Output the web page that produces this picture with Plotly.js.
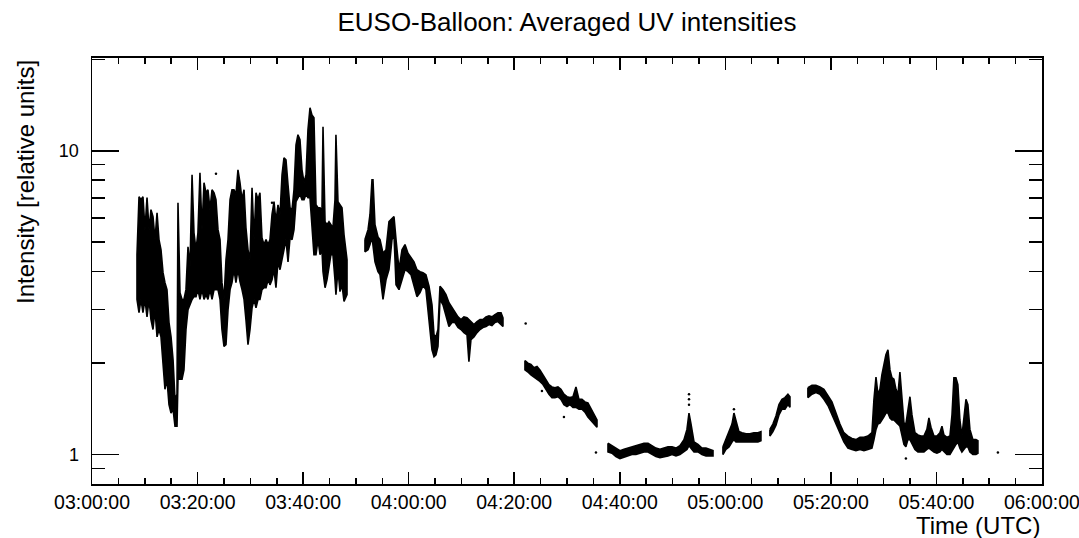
<!DOCTYPE html>
<html>
<head>
<meta charset="utf-8">
<script src="https://cdn.plot.ly/plotly-3.0.1.min.js"></script>
<style>
html,body{margin:0;padding:0;background:#ffffff;}
#chart{width:1079px;height:538px;}
</style>
</head>
<body>
<div id="chart"></div>
<script>
// Averaged UV intensity.
// tMin: minutes after 03:00:00 UTC (null = gap between recording intervals)
// lowVal / highVal: lower and upper envelope of the dense point cloud (relative units)
const tMin = [
  8.53, 8.91, 9.28, 9.66, 10.04, 10.42, 10.80, 11.18, 11.56, 11.94,
  12.32, 12.69, 13.07, 13.45, 13.83, 14.21, 14.59, 14.97, 15.35, 15.73,
  16.11, 16.29, 16.67, 17.05, 17.43, 17.81, 18.19, 18.57, 18.95, 19.33,
  19.71, 20.08, 20.46, 20.84, 21.22, 21.60, 21.98, 22.36, 22.74, 23.12,
  23.49, 23.87, 24.25, 24.63, 25.01, 25.39, 25.77, 26.15, 26.53, 26.91,
  27.28, 27.66, 28.04, 28.42, 28.80, 29.18, 29.56, 29.94, 30.32, 30.70,
  31.07, 31.45, 31.83, 32.21, 32.59, 32.97, 33.35, 33.73, 34.11, 34.49,
  34.86, 35.24, 35.62, 36.00, 36.38, 36.76, 37.14, 37.52, 37.90, 38.27,
  38.65, 39.03, 39.41, 39.79, 40.17, 40.55, 40.93, 41.31, 41.68, 42.06,
  42.44, 42.82, 43.20, 43.58, 43.77, 44.15, 44.53, 44.91, 45.28, 45.66,
  46.04, 46.23, 46.61, 46.99, 47.37, 47.75, 48.32,
  null,
  51.73, 52.30, 52.67, 53.05, 53.24, 53.62, 54.19, 54.57, 55.14, 55.71,
  56.27, 56.84, 57.22, 57.60, 58.17, 58.74, 59.31, 59.87, 60.44, 61.01,
  61.58, 62.15, 62.72, 63.28, 63.85, 64.42, 64.80, 65.18, 65.56, 65.94,
  66.51, 67.07, 67.64, 68.21, 68.78, 69.35, 69.92, 70.48, 71.05, 71.43,
  71.81, 72.38, 72.95, 73.52, 74.08, 74.65, 75.22, 75.79, 76.36, 76.93,
  77.50, 77.87,
  null,
  82.04, 82.61, 83.18, 83.75, 84.32, 84.88, 85.45, 86.02, 86.59, 87.16,
  87.73, 88.29, 88.86, 89.43, 90.00, 90.57, 91.14, 91.71, 92.27, 92.84,
  93.41, 93.98, 94.55, 95.12, 95.69,
  null,
  97.77, 98.53, 99.28, 100.04, 100.80, 101.56, 102.31, 103.07, 103.83, 104.59,
  105.35, 106.11, 106.86, 107.62, 108.38, 109.14, 109.90, 110.66, 111.41, 112.17,
  112.74, 113.12, 113.50, 114.07, 114.83, 115.58, 116.34, 117.10, 117.67,
  null,
  119.56, 120.13, 120.70, 121.27, 121.64, 122.02, 122.59, 123.16, 123.92, 124.67,
  125.43, 126.19, 126.76,
  null,
  128.46, 129.03, 129.60, 130.17, 130.74, 131.31, 131.88, 132.25,
  null,
  135.66, 136.42, 137.18, 137.94, 138.69, 139.45, 140.21, 140.97, 141.73, 142.48,
  143.24, 144.00, 144.76, 145.52, 146.27, 147.03, 147.79, 148.17, 148.55, 148.93,
  149.31, 149.68, 150.06, 150.44, 150.82, 151.20, 151.58, 151.96, 152.34, 152.72,
  153.09, 153.47, 153.85, 154.23, 154.61, 154.99, 155.37, 155.94, 156.51, 157.07,
  157.64, 158.21, 158.59, 158.97, 159.54, 160.10, 160.67, 161.05, 161.43, 162.00,
  162.57, 162.95, 163.33, 163.71, 164.08, 164.46, 164.84, 165.22, 165.60, 165.98,
  166.36, 166.93, 167.49, 167.87
];
const lowVal = [
  3.24, 2.93, 3.24, 2.93, 3.24, 2.84, 3.24, 2.78, 2.58, 3.00,
  2.44, 2.58, 2.44, 2.05, 1.64, 1.77, 1.46, 1.37, 1.41, 1.24,
  1.24, 1.77, 1.77, 1.77, 1.90, 2.58, 3.00, 3.11, 3.24, 3.31,
  3.31, 3.49, 3.24, 3.49, 3.24, 3.36, 3.24, 3.49, 3.24, 3.49,
  3.49, 3.49, 3.24, 2.58, 2.27, 2.30, 3.00, 3.49, 3.68, 4.06,
  3.68, 4.06, 3.71, 3.49, 3.24, 2.78, 2.30, 2.58, 3.04, 3.24,
  3.04, 3.24, 3.24, 3.49, 3.54, 3.54, 3.76, 3.62, 3.76, 4.06,
  3.54, 4.31, 4.06, 4.31, 4.72, 5.10, 4.31, 5.17, 5.10, 5.50,
  6.80, 7.00, 7.20, 6.90, 6.90, 7.20, 7.00, 7.00, 5.84, 4.55,
  4.55, 5.10, 4.55, 4.72, 4.00, 3.54, 3.76, 4.06, 4.55, 4.55,
  3.76, 3.36, 4.06, 3.44, 3.62, 3.19, 3.36,
  null,
  4.65, 4.72, 4.91, 5.20, 5.10, 4.31, 4.00, 3.91, 3.24, 3.76,
  4.06, 5.10, 5.29, 3.62, 3.49, 3.76, 4.06, 4.00, 3.91, 3.62,
  3.31, 3.41, 3.60, 3.49, 2.84, 2.21, 2.10, 2.13, 2.27, 3.24,
  3.11, 2.84, 2.64, 2.72, 2.72, 2.62, 2.58, 2.52, 2.48, 2.02,
  2.39, 2.44, 2.52, 2.58, 2.62, 2.64, 2.68, 2.66, 2.72, 2.74,
  2.68, 2.64,
  null,
  1.90, 1.87, 1.83, 1.79, 1.77, 1.74, 1.70, 1.64, 1.58, 1.54,
  1.54, 1.55, 1.52, 1.46, 1.44, 1.46, 1.43, 1.43, 1.41, 1.41,
  1.38, 1.33, 1.30, 1.26, 1.23,
  null,
  1.02, 1.01, 0.985, 0.97, 0.977, 0.99, 1.00, 1.00, 1.01, 1.02,
  1.02, 1.00, 0.985, 0.977, 0.985, 0.99, 1.00, 0.99, 1.00, 1.02,
  1.04, 1.07, 1.05, 1.02, 1.02, 1.00, 0.99, 0.99, 0.99,
  null,
  1.00, 1.04, 1.06, 1.10, 1.12, 1.10, 1.10, 1.10, 1.10, 1.10,
  1.10, 1.10, 1.11,
  null,
  1.15, 1.19, 1.25, 1.35, 1.41, 1.41, 1.46, 1.43,
  null,
  1.54, 1.58, 1.60, 1.58, 1.52, 1.45, 1.37, 1.27, 1.18, 1.10,
  1.05, 1.04, 1.03, 1.04, 1.03, 1.04, 1.05, 1.12, 1.21, 1.26,
  1.27, 1.30, 1.33, 1.37, 1.37, 1.32, 1.30, 1.30, 1.28, 1.26,
  1.24, 1.16, 1.08, 1.06, 1.12, 1.12, 1.08, 1.04, 1.02, 1.02,
  1.02, 1.04, 1.05, 1.04, 1.02, 1.01, 1.02, 1.04, 1.02, 1.00,
  1.00, 1.02, 1.05, 1.08, 1.10, 1.05, 1.02, 1.04, 1.06, 1.06,
  1.02, 1.00, 1.00, 1.01
];
const highVal = [
  4.55, 7.06, 6.90, 7.06, 5.50, 7.01, 5.50, 6.40, 6.07, 5.10,
  6.25, 5.10, 4.72, 3.97, 3.68, 3.49, 2.72, 2.44, 2.05, 1.52,
  1.58, 6.74, 3.41, 3.24, 3.24, 3.49, 4.83, 4.15, 8.34, 5.37,
  4.72, 5.37, 8.47, 5.50, 7.85, 7.27, 7.44, 6.40, 7.44, 7.27,
  6.90, 5.50, 5.10, 3.68, 3.24, 4.38, 5.10, 6.90, 7.44, 7.44,
  7.17, 8.66, 7.85, 6.90, 7.44, 5.58, 4.72, 4.38, 7.55, 5.10,
  7.27, 6.90, 7.27, 5.17, 4.91, 5.10, 4.91, 5.10, 6.16, 6.80,
  5.84, 6.64, 6.16, 8.34, 9.48, 9.34, 7.73, 6.49, 6.40, 7.44,
  10.46, 11.29, 10.87, 8.66, 7.85, 8.34, 11.73, 13.85, 13.13, 12.84,
  6.64, 6.49, 6.49, 6.30, 11.99, 5.84, 5.71, 5.84, 5.71, 5.58,
  6.90, 11.29, 6.80, 6.64, 6.49, 5.29, 4.38,
  null,
  5.10, 5.50, 6.16, 8.03, 8.03, 5.71, 5.20, 5.10, 4.60, 4.72,
  5.84, 6.00, 6.07, 5.10, 4.06, 4.72, 4.91, 4.60, 4.45, 4.31,
  4.06, 4.00, 3.97, 3.91, 3.58, 3.11, 2.48, 2.44, 2.58, 3.58,
  3.49, 3.36, 3.16, 3.04, 2.93, 2.84, 2.78, 2.84, 2.82, 2.78,
  2.74, 2.68, 2.74, 2.78, 2.78, 2.84, 2.86, 2.84, 2.89, 2.93,
  2.93, 2.82,
  null,
  2.04, 2.00, 1.98, 1.93, 1.95, 1.90, 1.83, 1.77, 1.70, 1.67,
  1.66, 1.67, 1.64, 1.58, 1.55, 1.54, 1.55, 1.67, 1.52, 1.52,
  1.49, 1.48, 1.41, 1.35, 1.30,
  null,
  1.09, 1.07, 1.05, 1.03, 1.04, 1.05, 1.06, 1.07, 1.08, 1.09,
  1.09, 1.07, 1.05, 1.04, 1.05, 1.06, 1.06, 1.05, 1.07, 1.12,
  1.21, 1.37, 1.26, 1.10, 1.08, 1.05, 1.05, 1.04, 1.03,
  null,
  1.06, 1.12, 1.18, 1.26, 1.37, 1.30, 1.19, 1.18, 1.17, 1.17,
  1.18, 1.18, 1.19,
  null,
  1.21, 1.26, 1.34, 1.46, 1.52, 1.54, 1.58, 1.55,
  null,
  1.66, 1.69, 1.69, 1.67, 1.64, 1.56, 1.49, 1.37, 1.26, 1.18,
  1.15, 1.13, 1.12, 1.14, 1.14, 1.15, 1.18, 1.52, 1.80, 1.58,
  1.64, 1.83, 1.98, 2.13, 2.21, 1.90, 1.79, 1.77, 1.64, 1.58,
  1.87, 1.52, 1.27, 1.26, 1.41, 1.55, 1.35, 1.18, 1.16, 1.15,
  1.15, 1.21, 1.32, 1.23, 1.15, 1.15, 1.18, 1.24, 1.16, 1.14,
  1.15, 1.35, 1.79, 1.79, 1.70, 1.30, 1.15, 1.30, 1.52, 1.46,
  1.21, 1.12, 1.12, 1.11
];
// isolated stray points
const dotMin = [23.49, 34.11, 82.17, 85.26, 89.43, 95.49, 113.12, 113.12, 113.12, 121.64, 154.23, 171.66];
const dotVal = [8.40, 6.74, 2.70, 1.62, 1.33, 1.015, 1.46, 1.52, 1.58, 1.41, 0.97, 1.015];

// x tick positions (minutes after 03:00 UTC) and labels
const xTickMin = [0, 20, 40, 60, 80, 100, 120, 140, 160, 180];
const xTickLabels = ['03:00:00', '03:20:00', '03:40:00', '04:00:00', '04:20:00',
                     '04:40:00', '05:00:00', '05:20:00', '05:40:00', '06:00:00'];
const yMajorTicks = [1, 10];
const yMajorLabels = ['1', '10'];
const yMinorTicks = [0.8, 0.9, 2, 3, 4, 5, 6, 7, 8, 9, 20];

function toStamp(m) {
  const ms = Date.UTC(2014, 7, 25, 3, 0, 0) + Math.round(m * 60000);
  return new Date(ms).toISOString().slice(0, 19).replace('T', ' ');
}

// Build one closed band per recording interval: upper envelope forward, lower envelope back.
const bandX = [], bandY = [];
let seg = [];
function flush() {
  if (!seg.length) return;
  seg.forEach(i => { bandX.push(toStamp(tMin[i])); bandY.push(highVal[i]); });
  for (let k = seg.length - 1; k >= 0; k--) { const i = seg[k]; bandX.push(toStamp(tMin[i])); bandY.push(lowVal[i]); }
  bandX.push(toStamp(tMin[seg[0]])); bandY.push(highVal[seg[0]]);
  bandX.push(null); bandY.push(null);
  seg = [];
}
for (let i = 0; i < tMin.length; i++) {
  if (tMin[i] === null) flush(); else seg.push(i);
}
flush();

const FONT = 'Liberation Sans, Arial, Helvetica, sans-serif';

const traces = [
  {
    type: 'scatter', mode: 'lines',
    x: bandX, y: bandY,
    fill: 'toself', fillcolor: '#000000',
    line: { color: '#000000', width: 1.6 },
    connectgaps: false, hoverinfo: 'skip', showlegend: false
  },
  {
    type: 'scatter', mode: 'markers',
    x: dotMin.map(toStamp), y: dotVal,
    marker: { color: '#000000', size: 2.5 },
    hoverinfo: 'skip', showlegend: false
  }
];

const minorXTicks = [];
for (let m = 0; m <= 180; m += 5) if (m % 20 !== 0) minorXTicks.push(toStamp(m));

const layout = {
  width: 1079, height: 538,
  margin: { l: 92, r: 37, t: 58, b: 54 },
  paper_bgcolor: '#ffffff', plot_bgcolor: '#ffffff',
  font: { family: FONT, color: '#000000' },
  showlegend: false,
  title: {
    text: 'EUSO-Balloon: Averaged UV intensities',
    font: { family: FONT, size: 26, color: '#000000' },
    xref: 'paper', x: 0.5, xanchor: 'center',
    yref: 'container', y: 1 - 22 / 538, yanchor: 'middle'
  },
  xaxis: {
    type: 'date',
    range: ['2014-08-25 02:59:59.5', '2014-08-25 06:00:00.5'],
    tickmode: 'array',
    tickvals: xTickMin.map(toStamp), ticktext: xTickLabels,
    ticks: 'inside', ticklen: 12, tickwidth: 1.5, tickcolor: '#000000',
    minor: { tickmode: 'array', tickvals: minorXTicks, ticks: 'inside', ticklen: 6, tickwidth: 1.5, tickcolor: '#000000', showgrid: false },
    showline: true, linecolor: '#000000', linewidth: 2, mirror: 'ticks',
    showgrid: false, zeroline: false,
    tickfont: { family: FONT, size: 19.5, color: '#000000' },
    ticklabelstandoff: 0,
    ticklabeloverflow: 'allow',
    fixedrange: true
  },
  yaxis: {
    type: 'log',
    range: [Math.log10(0.8), Math.log10(20.2)],
    tickmode: 'array', tickvals: yMajorTicks, ticktext: yMajorLabels,
    ticks: 'inside', ticklen: 27, tickwidth: 1.5, tickcolor: '#000000',
    minor: { tickmode: 'array', tickvals: yMinorTicks, ticks: 'inside', ticklen: 13, tickwidth: 1.5, tickcolor: '#000000', showgrid: false },
    showline: true, linecolor: '#000000', linewidth: 1.5, mirror: 'ticks',
    showgrid: false, zeroline: false,
    tickfont: { family: FONT, size: 18, color: '#000000' },
    ticklabelstandoff: 8,
    fixedrange: true
  },
  annotations: [
    {
      text: 'Time (UTC)', showarrow: false,
      xref: 'paper', x: 1, xanchor: 'right',
      yref: 'paper', y: (484 - 525) / 426, yanchor: 'middle',
      font: { family: FONT, size: 24, color: '#000000' }
    },
    {
      text: 'Intensity [relative units]', showarrow: false, textangle: -90,
      xref: 'paper', x: (25 - 92) / 950, xanchor: 'center',
      yref: 'paper', y: 1, yanchor: 'top',
      font: { family: FONT, size: 24, color: '#000000' }
    }
  ]
};

Plotly.newPlot('chart', traces, layout, { staticPlot: true, displayModeBar: false });
</script>
</body>
</html>
